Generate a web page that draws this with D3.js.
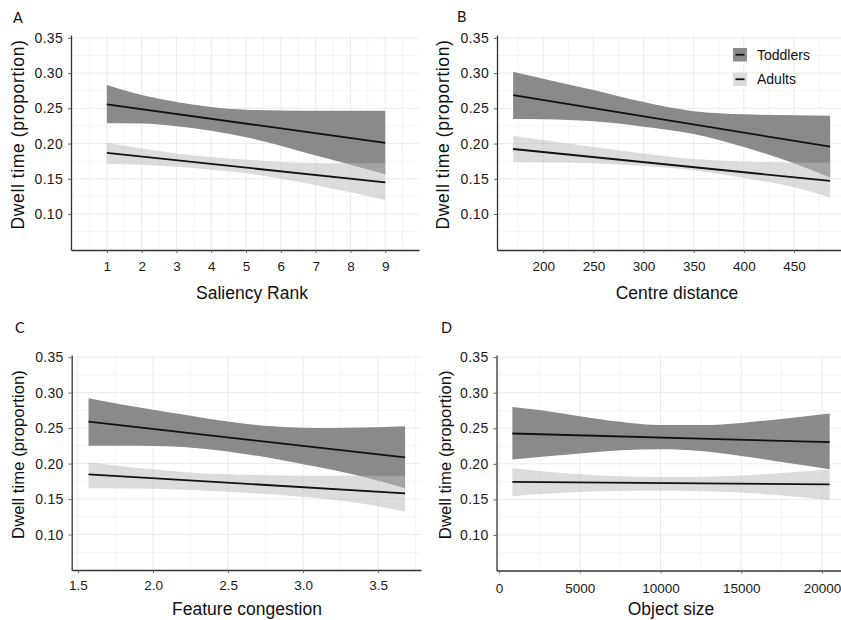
<!DOCTYPE html>
<html>
<head>
<meta charset="utf-8">
<script src="https://cdn.jsdelivr.net/npm/d3@7"></script>
<style>
body { margin: 0; background: #fff; }
svg { display: block; font-family: "Liberation Sans", Arial, sans-serif; }
</style>
</head>
<body>
<svg id="chart" width="841" height="620"></svg>
<script>
// values
const groups = ["Toddlers", "Adults"];
const panelLabels = ["A", "B", "C", "D"];
const xTitles = ["Saliency Rank", "Centre distance", "Feature congestion", "Object size"];
const yTitle = "Dwell time (proportion)";

const yTicks = [0.10, 0.15, 0.20, 0.25, 0.30, 0.35];
const yMinor = [0.075, 0.125, 0.175, 0.225, 0.275, 0.325];

// A: saliency rank
const xTicksA = [1, 2, 3, 4, 5, 6, 7, 8, 9];
const xMinorA = [0.5, 1.5, 2.5, 3.5, 4.5, 5.5, 6.5, 7.5, 8.5, 9.5];
const xsA = [1, 2, 3, 4, 5, 6, 7, 8, 9];
const toddHiA = [0.283, 0.269, 0.259, 0.252, 0.248, 0.247, 0.2465, 0.2465, 0.2466];
const toddLoA = [0.2287, 0.2283, 0.2245, 0.218, 0.209, 0.197, 0.183, 0.170, 0.1565];
const adultHiA = [0.201, 0.193, 0.186, 0.181, 0.177, 0.174, 0.1725, 0.172, 0.172];
const adultLoA = [0.1711, 0.170, 0.167, 0.163, 0.158, 0.150, 0.141, 0.131, 0.120];
const lineXA = [1, 9];
const toddLineA = [0.2556, 0.201];
const adultLineA = [0.1867, 0.145];

// B: centre distance
const xTicksB = [200, 250, 300, 350, 400, 450];
const xMinorB = [175, 225, 275, 325, 375, 425, 475];
const xsB = [170, 200, 250, 300, 350, 400, 450, 486];
const toddHiB = [0.302, 0.292, 0.276, 0.259, 0.246, 0.2415, 0.240, 0.2395];
const toddLoB = [0.2348, 0.2346, 0.2315, 0.224, 0.2135, 0.195, 0.172, 0.1517];
const adultHiB = [0.2112, 0.205, 0.195, 0.186, 0.178, 0.1745, 0.173, 0.173];
const adultLoB = [0.1735, 0.1733, 0.172, 0.168, 0.162, 0.151, 0.138, 0.1234];
const lineXB = [170, 486];
const toddLineB = [0.2688, 0.1956];
const adultLineB = [0.1923, 0.147];

// C: feature congestion
const xTicksC = [1.5, 2.0, 2.5, 3.0, 3.5];
const xMinorC = [1.75, 2.25, 2.75, 3.25, 3.75];
const xsC = [1.57, 1.8, 2.0, 2.2, 2.4, 2.6, 2.8, 3.0, 3.2, 3.4, 3.68];
const toddHiC = [0.292, 0.283, 0.276, 0.269, 0.262, 0.2565, 0.2525, 0.2505, 0.250, 0.2508, 0.2525];
const toddLoC = [0.2252, 0.2252, 0.2248, 0.2235, 0.2195, 0.214, 0.207, 0.199, 0.191, 0.1815, 0.1651];
const adultHiC = [0.2017, 0.196, 0.192, 0.188, 0.1855, 0.1842, 0.1835, 0.183, 0.183, 0.183, 0.183];
const adultLoC = [0.1651, 0.165, 0.1645, 0.163, 0.1615, 0.159, 0.1565, 0.153, 0.149, 0.1435, 0.1322];
const lineXC = [1.57, 3.68];
const toddLineC = [0.259, 0.2088];
const adultLineC = [0.1849, 0.158];

// D: object size
const xTicksD = [0, 5000, 10000, 15000, 20000];
const xMinorD = [2500, 7500, 12500, 17500];
const xsD = [824, 2500, 5000, 7500, 10000, 12500, 15000, 17500, 20472];
const toddHiD = [0.280, 0.2755, 0.267, 0.259, 0.2545, 0.2545, 0.2575, 0.263, 0.2708];
const toddLoD = [0.206, 0.2095, 0.2145, 0.219, 0.2205, 0.218, 0.211, 0.2025, 0.1923];
const adultHiD = [0.1942, 0.190, 0.1855, 0.1825, 0.1815, 0.1818, 0.1835, 0.187, 0.1923];
const adultLoD = [0.1543, 0.1575, 0.1605, 0.1618, 0.162, 0.1615, 0.1595, 0.1555, 0.1486];
const lineXD = [824, 20472];
const toddLineD = [0.2426, 0.2304];
const adultLineD = [0.1745, 0.1712];

const darkFill = "#8a8a8a";
const lightFill = "#bcbcbc";

const svg = d3.select("#chart");

const panels = [
    { label: panelLabels[0], xTitle: xTitles[0], xs: xsA, tHi: toddHiA, tLo: toddLoA, aHi: adultHiA, aLo: adultLoA,
      lineX: lineXA, tLine: toddLineA, aLine: adultLineA, ticks: xTicksA, minor: xMinorA, fmt: d3.format("d"),
      xDomain: [-0.03, 9.97], yDomain: [0.049, 0.354], left: 71, right: 419, top: 35, bottom: 250,
      labelPos: [13, 23], yTitleX: 24, xTitlePos: [252, 299], tickPad: 8.5, yTitleSize: 17.5, yTitleSpacing: 0.6 },
    { label: panelLabels[1], xTitle: xTitles[1], xs: xsB, tHi: toddHiB, tLo: toddLoB, aHi: adultHiB, aLo: adultLoB,
      lineX: lineXB, tLine: toddLineB, aLine: adultLineB, ticks: xTicksB, minor: xMinorB, fmt: d3.format("d"),
      xDomain: [153.9, 501.8], yDomain: [0.049, 0.354], left: 497, right: 846, top: 35, bottom: 250,
      labelPos: [457, 22], yTitleX: 448.5, xTitlePos: [677, 298.5], tickPad: 8, yTitleSize: 17.5, yTitleSpacing: 0.6,
      legend: true },
    { label: panelLabels[2], xTitle: xTitles[2], xs: xsC, tHi: toddHiC, tLo: toddLoC, aHi: adultHiC, aLo: adultLoC,
      lineX: lineXC, tLine: toddLineC, aLine: adultLineC, ticks: xTicksC, minor: xMinorC, fmt: d3.format(".1f"),
      xDomain: [1.458, 3.786], yDomain: [0.05, 0.353], left: 71.7, right: 421, top: 355, bottom: 570,
      labelPos: [15, 333], yTitleX: 23.5, xTitlePos: [247, 615], tickPad: 7.5, yTitleSize: 16.8, yTitleSpacing: 0 },
    { label: panelLabels[3], xTitle: xTitles[3], xs: xsD, tHi: toddHiD, tLo: toddLoD, aHi: adultHiD, aLo: adultLoD,
      lineX: lineXD, tLine: toddLineD, aLine: adultLineD, ticks: xTicksD, minor: xMinorD, fmt: d3.format("d"),
      xDomain: [-158, 21454], yDomain: [0.05, 0.353], left: 496.5, right: 845.5, top: 355, bottom: 570.5,
      labelPos: [441, 332.5], yTitleX: 451, xTitlePos: [671, 615], tickPad: 9.5, yTitleSize: 16.8, yTitleSpacing: 0 }
];

function drawPanel(p) {
    const x = d3.scaleLinear().domain(p.xDomain).range([p.left, p.right]);
    const y = d3.scaleLinear().domain(p.yDomain).range([p.bottom, p.top]);
    const g = svg.append("g");

    // grid
    const grid = g.append("g");
    grid.selectAll(".hmin").data(yMinor).join("line")
        .attr("x1", p.left).attr("x2", p.right)
        .attr("y1", d => y(d)).attr("y2", d => y(d))
        .attr("stroke", "#f4f4f4");
    grid.selectAll(".vmin").data(p.minor).join("line")
        .attr("y1", p.top).attr("y2", p.bottom)
        .attr("x1", d => x(d)).attr("x2", d => x(d))
        .attr("stroke", "#f4f4f4");
    grid.selectAll(".hmaj").data(yTicks).join("line")
        .attr("x1", p.left).attr("x2", p.right)
        .attr("y1", d => y(d)).attr("y2", d => y(d))
        .attr("stroke", "#ebebeb");
    grid.selectAll(".vmaj").data(p.ticks).join("line")
        .attr("y1", p.top).attr("y2", p.bottom)
        .attr("x1", d => x(d)).attr("x2", d => x(d))
        .attr("stroke", "#ebebeb");

    // confidence bands
    const area = d3.area()
        .x(d => x(d.x)).y0(d => y(d.lo)).y1(d => y(d.hi))
        .curve(d3.curveMonotoneX);
    const toddBand = p.xs.map((v, i) => ({ x: v, hi: p.tHi[i], lo: p.tLo[i] }));
    const adultBand = p.xs.map((v, i) => ({ x: v, hi: p.aHi[i], lo: p.aLo[i] }));
    g.append("path").datum(toddBand).attr("d", area).attr("fill", darkFill);
    g.append("path").datum(adultBand).attr("d", area).attr("fill", lightFill).attr("fill-opacity", 0.52);

    // fitted lines
    const line = d3.line().x(d => x(d.x)).y(d => y(d.y));
    [p.tLine, p.aLine].forEach(vals => {
        g.append("path")
            .datum(p.lineX.map((v, i) => ({ x: v, y: vals[i] })))
            .attr("d", line)
            .attr("fill", "none")
            .attr("stroke", "#111")
            .attr("stroke-width", 1.8);
    });

    // axes
    const yAxis = d3.axisLeft(y).tickValues(yTicks).tickFormat(d3.format(".2f"))
        .tickSize(3).tickSizeOuter(0).tickPadding(5);
    const xAxis = d3.axisBottom(x).tickValues(p.ticks).tickFormat(p.fmt)
        .tickSize(3).tickSizeOuter(0).tickPadding(p.tickPad);
    const ya = g.append("g").attr("transform", `translate(${p.left},0)`).call(yAxis);
    const xa = g.append("g").attr("transform", `translate(0,${p.bottom})`).call(xAxis);
    [ya, xa].forEach(a => {
        a.attr("font-family", null).attr("font-size", null);
        a.select(".domain").attr("stroke", "#333").attr("stroke-width", 1.3);
        a.selectAll(".tick line").attr("stroke", "#666");
        a.selectAll(".tick text").attr("fill", "#1a1a1a").style("font-size", "13.5px");
    });
    ya.selectAll(".tick text").style("font-size", "14px").style("letter-spacing", "0.3px");

    // titles
    g.append("text")
        .attr("transform", `translate(${p.yTitleX},${(p.top + p.bottom) / 2 - 8}) rotate(-90)`)
        .attr("text-anchor", "middle")
        .style("font-size", p.yTitleSize + "px")
        .style("letter-spacing", p.yTitleSpacing + "px")
        .attr("fill", "#111")
        .text(yTitle);
    g.append("text")
        .attr("x", p.xTitlePos[0]).attr("y", p.xTitlePos[1])
        .attr("text-anchor", "middle")
        .style("font-size", "17.5px")
        .attr("fill", "#111")
        .text(p.xTitle);
    g.append("text")
        .attr("x", p.labelPos[0]).attr("y", p.labelPos[1])
        .style("font-family", "Lato, 'Open Sans', sans-serif")
        .style("font-size", "14.5px")
        .attr("fill", "#111")
        .text(p.label);

    if (p.legend) {
        const lg = g.append("g").attr("transform", "translate(733,48)");
        const items = lg.selectAll("g").data(groups).join("g")
            .attr("transform", (d, i) => `translate(0,${i * 24.5})`);
        items.append("rect").attr("width", 14).attr("height", 13.5)
            .attr("fill", (d, i) => i === 0 ? darkFill : "#dcdcdc");
        items.append("line").attr("x1", 2.5).attr("x2", 11.5).attr("y1", 6.75).attr("y2", 6.75)
            .attr("stroke", "#111").attr("stroke-width", 1.8);
        items.append("text").attr("x", 24).attr("y", 11.5)
            .style("font-size", "14px").attr("fill", "#111")
            .text(d => d);
    }
}

panels.forEach(drawPanel);
</script>
</body>
</html>
